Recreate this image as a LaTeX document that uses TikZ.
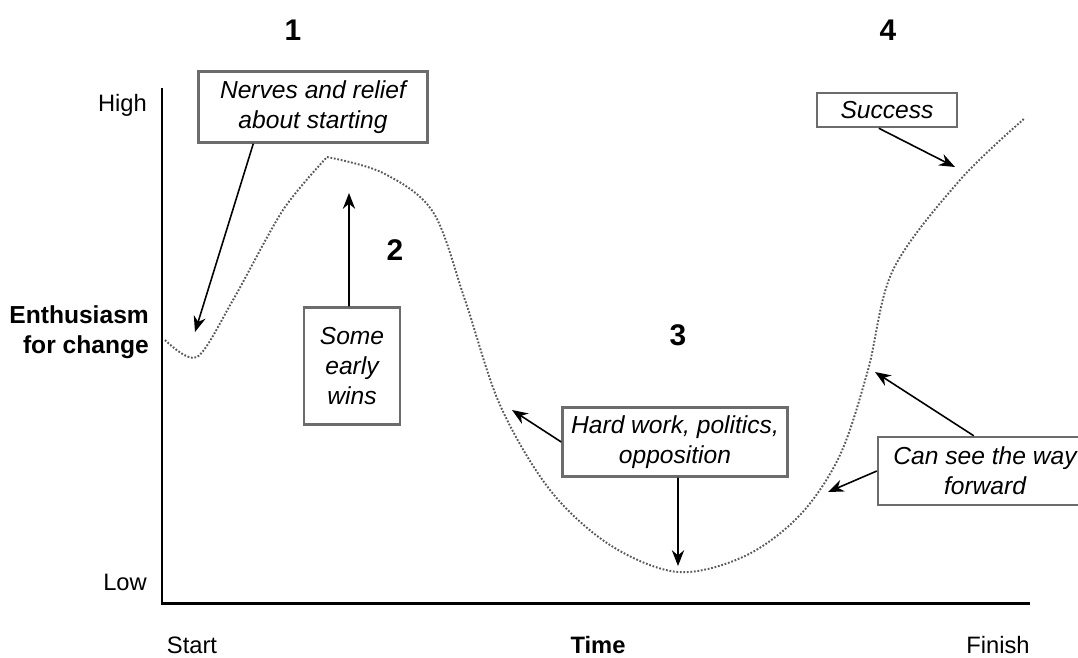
\documentclass[tikz,border=0pt]{standalone}
\usepackage{fontspec}
\setmainfont{Liberation Sans}
\usetikzlibrary{arrows.meta}

\begin{document}
\begin{tikzpicture}[x=0.02cm,y=-0.02cm,
	box/.style={draw=gray!85!black,line width=1.4pt,fill=white,align=center,inner sep=2pt,font=\fontsize{14}{17}\selectfont\itshape},
	axislbl/.style={font=\fontsize{13.5}{16}\selectfont},
	phase/.style={font=\fontsize{17}{20}\selectfont\bfseries},
	curve/.style={gray!70!black,line width=1.1pt,dash pattern=on 1pt off 1pt},
	pointer/.style={line width=0.9pt,-{Stealth[length=9pt,width=7pt]}}]
	\useasboundingbox (0,0) rectangle (1078,657);
	
	% axes
	\coordinate (origin) at (162,603);
	\coordinate (ytop) at (162,88);
	\coordinate (xend) at (1030,603);
	\draw[line width=1.7pt] (ytop) -- (origin) -- (xend);
	
	% curve
	\draw[curve] plot[smooth,tension=0.5] coordinates {(165,340) (197,357) (233,300) (283,210) (327,157)};
	\draw[curve] plot[smooth,tension=0.55] coordinates {(327,157) (383,173) (433,212) (465,300) (500,405) (550,490) (610,545) (678,572) (745,556) (800,515) (840,455) (868,370) (893,270) (960,180) (1025,118)};
	
	% axis labels
	\node[axislbl,anchor=east] (high) at (153,105) {High};
	\node[axislbl,anchor=east] (low) at (153,582) {Low};
	\node[axislbl] (start) at (192,645) {Start};
	\node[axislbl,font=\fontsize{13.5}{16}\selectfont\bfseries] (time) at (598,645) {Time};
	\node[axislbl] (finish) at (998,645) {Finish};
	\node[anchor=east,align=right,font=\fontsize{14}{17}\selectfont\bfseries] (enth) at (155,332) {Enthusiasm\\for change};
	
	% phases
	\node[phase] (p1) at (293,30) {1};
	\node[phase] (p2) at (395,250) {2};
	\node[phase] (p3) at (678,335) {3};
	\node[phase] (p4) at (888,30) {4};
	
	% boxes
	\node[box,minimum width=4.58cm,minimum height=1.42cm] (nerves) at (313,107) {Nerves and relief\\about starting};
	\node[box,minimum width=1.92cm,minimum height=2.34cm] (wins) at (352,366) {Some\\early\\wins};
	\node[box,minimum width=4.5cm,minimum height=1.38cm] (hard) at (675,442) {Hard work, politics,\\opposition};
	\node[box,minimum width=2.8cm,minimum height=0.68cm] (success) at (887,110) {Success};
	\node[box,minimum width=4.28cm,minimum height=1.36cm] (way) at (985,471) {Can see the way\\forward};
	
	% arrows
	\coordinate (dip) at (195,332);
	\coordinate (peak) at (349,193);
	\coordinate (slope) at (512,410);
	\coordinate (bottom) at (678,566);
	\coordinate (top) at (955,167);
	\coordinate (climb) at (875,372);
	\coordinate (turn) at (828,492);
	\draw[pointer] (nerves.south west) ++(1.12cm,0) -- (dip);
	\draw[pointer] (wins.north) ++(-0.06cm,0) -- (peak);
	\draw[pointer] (hard.west) -- (slope);
	\draw[pointer] (hard.south) ++(0.06cm,0) -- (bottom);
	\draw[pointer] (success.south west) ++(1.26cm,0) -- (top);
	\draw[pointer] (way.north west) ++(1.94cm,0) -- (climb);
	\draw[pointer] (way.west) -- (turn);
\end{tikzpicture}
\end{document}
